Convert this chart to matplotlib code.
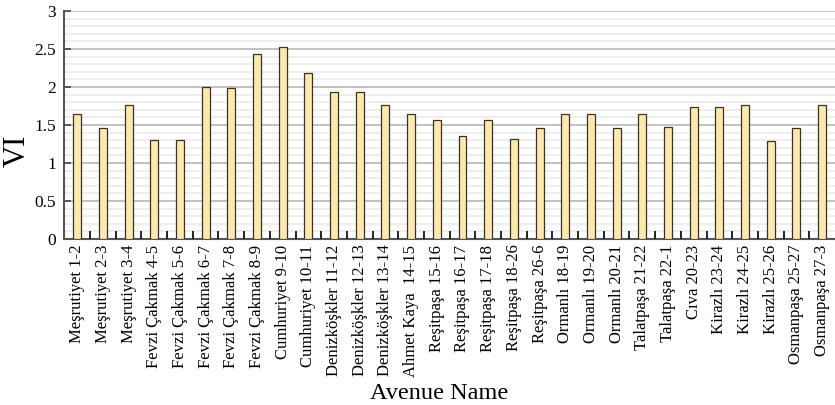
import numpy as np
import matplotlib.pyplot as plt
from matplotlib.ticker import MultipleLocator

# 도로별 VI 값
avenues = [
    "Meşrutiyet 1-2", "Meşrutiyet 2-3", "Meşrutiyet 3-4",
    "Fevzi Çakmak 4-5", "Fevzi Çakmak 5-6", "Fevzi Çakmak 6-7",
    "Fevzi Çakmak 7-8", "Fevzi Çakmak 8-9", "Cumhuriyet 9-10",
    "Cumhuriyet 10-11", "Denizköşkler 11-12", "Denizköşkler 12-13",
    "Denizköşkler 13-14", "Ahmet Kaya  14-15", "Reşitpaşa 15-16",
    "Reşitpaşa 16-17", "Reşitpaşa 17-18", "Reşitpaşa 18-26",
    "Reşitpaşa 26-6", "Ormanlı 18-19", "Ormanlı 19-20",
    "Ormanlı 20-21", "Talatpaşa 21-22", "Talatpaşa 22-1",
    "Cıva 20-23", "Kirazlı 23-24", "Kirazlı 24-25",
    "Kirazlı 25-26", "Osmanpaşa 25-27", "Osmanpaşa 27-3",
]
vi = [
    1.64, 1.46, 1.76, 1.30, 1.30, 2.00, 1.98, 2.43, 2.53, 2.18,
    1.94, 1.94, 1.76, 1.65, 1.57, 1.36, 1.57, 1.32, 1.46, 1.64,
    1.64, 1.46, 1.64, 1.47, 1.73, 1.73, 1.76, 1.29, 1.46, 1.76,
]

plt.rcParams['font.family'] = ['Liberation Serif', 'DejaVu Serif']

fig = plt.figure(figsize=(8.35, 4.05), dpi=100)
ax = fig.add_axes([0.077, 0.41, 0.923, 0.563])

x = np.arange(len(avenues))
ax.bar(x, vi, width=0.31, color='#FFE9AA', edgecolor='#333333',
       linewidth=0.9, zorder=3)

ax.set_xlim(-0.5, len(avenues) - 0.5)
ax.set_ylim(0, 3)

# 격자선
ax.yaxis.set_major_locator(MultipleLocator(0.5))
ax.yaxis.set_minor_locator(MultipleLocator(0.1))
ax.grid(which='major', axis='y', color='#bdbdbd', linewidth=1.3, zorder=0)
ax.grid(which='minor', axis='y', color='#ebebeb', linewidth=1.2, zorder=0)
ax.yaxis.set_major_formatter(plt.FuncFormatter(lambda v, p: f"{v:g}"))

# x축 눈금: 이름은 막대 중앙, 눈금선은 막대 사이
ax.set_xticks(x)
ax.set_xticklabels(avenues, rotation=90, fontsize=12)
ax.set_xticks(x[:-1] + 0.5, minor=True)
ax.tick_params(axis='x', which='major', length=0, pad=4)
ax.tick_params(axis='x', which='minor', direction='in', length=6,
               width=1.4, color='#222222')
ax.tick_params(axis='y', which='major', direction='in', length=5,
               width=1.2, color='#444444', labelsize=12.5, pad=6)
ax.tick_params(axis='y', which='minor', length=0)
# x축 눈금선이 y 격자선 위에 오도록
ax.xaxis.set_zorder(4)

for side in ['top', 'right']:
    ax.spines[side].set_visible(False)
ax.spines['left'].set_color('#555555')
ax.spines['left'].set_linewidth(1.5)
ax.spines['bottom'].set_color('#555555')
ax.spines['bottom'].set_linewidth(1.5)

ax.set_ylabel('VI', fontsize=22)
ax.yaxis.set_label_coords(-0.042, 0.386)
ax.set_xlabel('Avenue Name', fontsize=17.5)
ax.xaxis.set_label_coords(0.486, -0.63)

fig.savefig('out.png', dpi=100)
